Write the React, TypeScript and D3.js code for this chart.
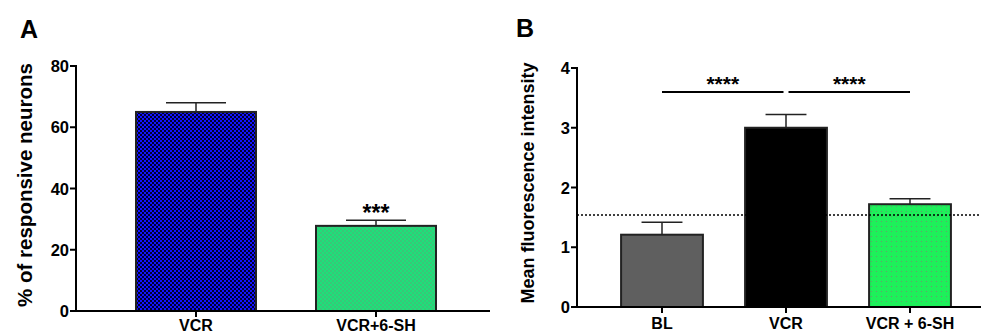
import React from 'react';
import * as d3 from 'd3';

// panel A: % of responsive neurons
const catsA = ['VCR', 'VCR+6-SH'];
const meansA = [65, 27.8];
const semA = [3, 1.8];
const ticksA = [0, 20, 40, 60, 80];

// panel B: mean fluorescence intensity
const catsB = ['BL', 'VCR', 'VCR + 6-SH'];
const meansB = [1.21, 3.0, 1.72];
const semB = [0.21, 0.22, 0.09];
const ticksB = [0, 1, 2, 3, 4];
const thresholdB = 1.54;
const sigPairs = [[0, 1], [1, 2]];
const sigLevel = 3.6;

const font = '"Liberation Sans", Arial, sans-serif';

const App = () => {
  const yA = d3.scaleLinear().domain([0, 80]).range([311, 66]);
  const xA = d3.scaleBand().domain(catsA).range([106, 466]).paddingInner(1 / 3).paddingOuter(1 / 6);
  const yB = d3.scaleLinear().domain([0, 4]).range([307, 68]);
  const xB = d3.scaleBand().domain(catsB).range([600, 972]).paddingInner(0.34).paddingOuter(0.17);

  const fillsA = ['url(#blueCheck)', 'url(#greenCheck)'];
  const fillsB = ['#5f5f5f', '#000000', 'url(#greenDots)'];

  const axisA = { x0: 76, x1: 490 };
  const axisB = { x0: 577, x1: 981 };

  const bars = (cats, means, sem, x, y, fills) =>
    cats.map((c, i) => {
      const cx = x(c) + x.bandwidth() / 2;
      const half = x.bandwidth() / 4;
      return (
        <g key={c}>
          <rect x={x(c)} y={y(means[i])} width={x.bandwidth()} height={y(0) - y(means[i])}
            fill={fills[i]} stroke="#222" strokeWidth={2} />
          <line x1={cx} x2={cx} y1={y(means[i])} y2={y(means[i] + sem[i])} stroke="#222" strokeWidth={1.5} />
          <line x1={cx - half} x2={cx + half} y1={y(means[i] + sem[i])} y2={y(means[i] + sem[i])} stroke="#222" strokeWidth={1.5} />
        </g>
      );
    });

  const yAxis = (ticks, y, x0) => (
    <g>
      <line x1={x0} x2={x0} y1={y(0)} y2={y(ticks[ticks.length - 1]) - 1} stroke="#000" strokeWidth={2} />
      {ticks.map(t => (
        <g key={t}>
          <line x1={x0 - 6} x2={x0} y1={y(t)} y2={y(t)} stroke="#000" strokeWidth={2} />
          <text x={x0 - 7} y={y(t) + 6} textAnchor="end" fontSize={16.5} fontWeight="bold">{t}</text>
        </g>
      ))}
    </g>
  );

  const xAxis = (cats, x, y, ax, baseline) => (
    <g>
      <line x1={ax.x0 - 1} x2={ax.x1} y1={y(0)} y2={y(0)} stroke="#000" strokeWidth={2} />
      {cats.map(c => {
        const cx = x(c) + x.bandwidth() / 2;
        return (
          <g key={c}>
            <line x1={cx} x2={cx} y1={y(0)} y2={y(0) + 6} stroke="#000" strokeWidth={2} />
            <text x={cx} y={baseline} textAnchor="middle" fontSize={16} fontWeight="bold">{c}</text>
          </g>
        );
      })}
    </g>
  );

  return (
    <div style={{ position: 'absolute', left: 0, top: 0 }}>
      <svg width={981} height={333} style={{ display: 'block', fontFamily: font }}>
        <defs>
          <pattern id="blueCheck" patternUnits="userSpaceOnUse" width={4} height={4}>
            <rect width={4} height={4} fill="#000030" />
            <rect width={2} height={2} fill="#1414ff" />
            <rect x={2} y={2} width={2} height={2} fill="#1414ff" />
          </pattern>
          <pattern id="greenCheck" patternUnits="userSpaceOnUse" width={4} height={4}>
            <rect width={4} height={4} fill="#1ee07a" />
            <rect width={2} height={2} fill="#38c878" />
            <rect x={2} y={2} width={2} height={2} fill="#38c878" />
          </pattern>
          <pattern id="greenDots" patternUnits="userSpaceOnUse" width={5} height={5}>
            <rect width={5} height={5} fill="#1ef05a" />
            <rect x={1} y={1} width={1} height={1} fill="#6a9a70" />
          </pattern>
        </defs>

        {/* panel A */}
        <text x={20} y={38} fontSize={25} fontWeight="bold">A</text>
        <text transform="translate(32,185) rotate(-90)" textAnchor="middle" fontSize={20.5} fontWeight="bold">
          % of responsive neurons
        </text>
        {bars(catsA, meansA, semA, xA, yA, fillsA)}
        {yAxis(ticksA, yA, axisA.x0)}
        {xAxis(catsA, xA, yA, axisA, 331)}
        <text x={xA(catsA[1]) + xA.bandwidth() / 2} y={221} textAnchor="middle" fontSize={23} fontWeight="bold">***</text>

        {/* panel B */}
        <text x={516} y={37} fontSize={25} fontWeight="bold">B</text>
        <text transform="translate(534,183) rotate(-90)" textAnchor="middle" fontSize={18} fontWeight="bold">
          Mean fluorescence intensity
        </text>
        {bars(catsB, meansB, semB, xB, yB, fillsB)}
        <line x1={axisB.x0} x2={axisB.x1} y1={yB(thresholdB)} y2={yB(thresholdB)}
          stroke="#000" strokeWidth={1.5} strokeDasharray="2,2" />
        {yAxis(ticksB, yB, axisB.x0)}
        {xAxis(catsB, xB, yB, axisB, 329)}
        {sigPairs.map(([a, b], i) => {
          const xa = xB(catsB[a]) + xB.bandwidth() / 2 + (i === 0 ? 0 : 2.5);
          const xb = xB(catsB[b]) + xB.bandwidth() / 2 - (i === 0 ? 2.5 : 0);
          return (
            <g key={i}>
              <line x1={xa} x2={xb} y1={yB(sigLevel)} y2={yB(sigLevel)} stroke="#000" strokeWidth={2} />
              <text x={(xa + xb) / 2} y={yB(sigLevel) - 0.5} textAnchor="middle" fontSize={21} fontWeight="bold">****</text>
            </g>
          );
        })}
      </svg>
    </div>
  );
};

export default App;
